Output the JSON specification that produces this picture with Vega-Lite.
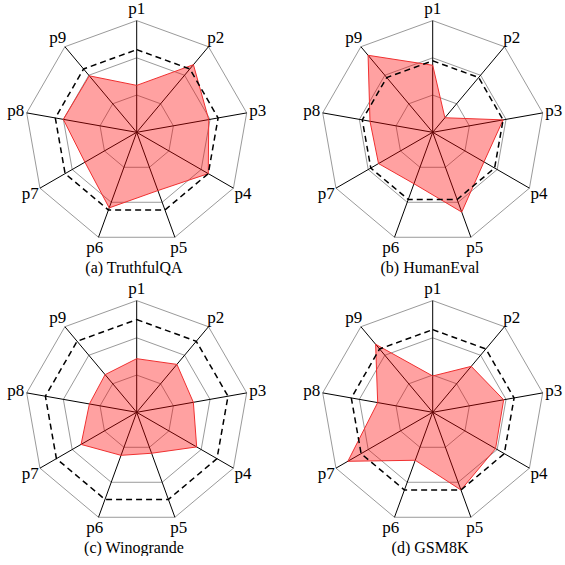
{
  "$schema": "https://vega.github.io/schema/vega-lite/v6.json",
  "padding": 0,
  "background": "white",
  "data": {"values": [
    {"panel": "(a) TruthfulQA", "axis": "p1", "value": 0.42, "ref": 0.74},
    {"panel": "(a) TruthfulQA", "axis": "p2", "value": 0.79, "ref": 0.74},
    {"panel": "(a) TruthfulQA", "axis": "p3", "value": 0.655, "ref": 0.74},
    {"panel": "(a) TruthfulQA", "axis": "p4", "value": 0.74, "ref": 0.74},
    {"panel": "(a) TruthfulQA", "axis": "p5", "value": 0.555, "ref": 0.74},
    {"panel": "(a) TruthfulQA", "axis": "p6", "value": 0.72, "ref": 0.74},
    {"panel": "(a) TruthfulQA", "axis": "p7", "value": 0.535, "ref": 0.74},
    {"panel": "(a) TruthfulQA", "axis": "p8", "value": 0.667, "ref": 0.74},
    {"panel": "(a) TruthfulQA", "axis": "p9", "value": 0.66, "ref": 0.74},
    {"panel": "(b) HumanEval", "axis": "p1", "value": 0.6, "ref": 0.64},
    {"panel": "(b) HumanEval", "axis": "p2", "value": 0.17, "ref": 0.64},
    {"panel": "(b) HumanEval", "axis": "p3", "value": 0.64, "ref": 0.64},
    {"panel": "(b) HumanEval", "axis": "p4", "value": 0.53, "ref": 0.64},
    {"panel": "(b) HumanEval", "axis": "p5", "value": 0.76, "ref": 0.64},
    {"panel": "(b) HumanEval", "axis": "p6", "value": 0.49, "ref": 0.64},
    {"panel": "(b) HumanEval", "axis": "p7", "value": 0.56, "ref": 0.64},
    {"panel": "(b) HumanEval", "axis": "p8", "value": 0.57, "ref": 0.64},
    {"panel": "(b) HumanEval", "axis": "p9", "value": 0.9, "ref": 0.64},
    {"panel": "(c) Winogrande", "axis": "p1", "value": 0.48, "ref": 0.83},
    {"panel": "(c) Winogrande", "axis": "p2", "value": 0.56, "ref": 0.83},
    {"panel": "(c) Winogrande", "axis": "p3", "value": 0.515, "ref": 0.83},
    {"panel": "(c) Winogrande", "axis": "p4", "value": 0.62, "ref": 0.83},
    {"panel": "(c) Winogrande", "axis": "p5", "value": 0.39, "ref": 0.83},
    {"panel": "(c) Winogrande", "axis": "p6", "value": 0.41, "ref": 0.83},
    {"panel": "(c) Winogrande", "axis": "p7", "value": 0.575, "ref": 0.83},
    {"panel": "(c) Winogrande", "axis": "p8", "value": 0.43, "ref": 0.83},
    {"panel": "(c) Winogrande", "axis": "p9", "value": 0.44, "ref": 0.83},
    {"panel": "(d) GSM8K", "axis": "p1", "value": 0.325, "ref": 0.74},
    {"panel": "(d) GSM8K", "axis": "p2", "value": 0.537, "ref": 0.74},
    {"panel": "(d) GSM8K", "axis": "p3", "value": 0.645, "ref": 0.74},
    {"panel": "(d) GSM8K", "axis": "p4", "value": 0.65, "ref": 0.74},
    {"panel": "(d) GSM8K", "axis": "p5", "value": 0.74, "ref": 0.74},
    {"panel": "(d) GSM8K", "axis": "p6", "value": 0.457, "ref": 0.74},
    {"panel": "(d) GSM8K", "axis": "p7", "value": 0.877, "ref": 0.74},
    {"panel": "(d) GSM8K", "axis": "p8", "value": 0.5, "ref": 0.74},
    {"panel": "(d) GSM8K", "axis": "p9", "value": 0.795, "ref": 0.74}
  ]},
  "transform": [
    {"calculate": "indexof(['p1','p2','p3','p4','p5','p6','p7','p8','p9'], datum.axis)", "as": "idx"},
    {"calculate": "datum.idx * 2 * PI / 9", "as": "ang"},
    {"calculate": "sin(datum.ang)", "as": "ux"},
    {"calculate": "cos(datum.ang)", "as": "uy"}
  ],
  "facet": {
    "field": "panel", "type": "nominal",
    "sort": ["(a) TruthfulQA", "(b) HumanEval", "(c) Winogrande", "(d) GSM8K"],
    "header": {"title": null, "labelOrient": "bottom", "labelFont": "serif", "labelFontSize": 16, "labelColor": "black", "labelPadding": 2}
  },
  "columns": 2,
  "spacing": {"row": 4, "column": 28},
  "spec": {
    "width": 268,
    "height": 258,
    "layer": [
      {
        "transform": [
          {"calculate": "1/3", "as": "g1"},
          {"calculate": "2/3", "as": "g2"},
          {"calculate": "1", "as": "g3"},
          {"fold": ["g1", "g2", "g3"], "as": ["ring", "lv"]},
          {"calculate": "datum.lv * datum.ux", "as": "gx"},
          {"calculate": "datum.lv * datum.uy", "as": "gy"}
        ],
        "mark": {"type": "line", "interpolate": "linear-closed", "stroke": "#9a9a9a", "strokeWidth": 1},
        "encoding": {
          "x": {"field": "gx", "type": "quantitative", "scale": {"domain": [-1.2238, 1.1755], "nice": false, "zero": false}, "axis": null},
          "y": {"field": "gy", "type": "quantitative", "scale": {"domain": [-1.1253, 1.1844], "nice": false, "zero": false}, "axis": null},
          "detail": {"field": "ring", "type": "nominal"},
          "order": {"field": "idx", "type": "quantitative"}
        }
      },
      {
        "mark": {"type": "rule", "stroke": "black", "strokeWidth": 1},
        "encoding": {
          "x": {"field": "ux", "type": "quantitative"},
          "y": {"field": "uy", "type": "quantitative"},
          "x2": {"datum": 0},
          "y2": {"datum": 0}
        }
      },
      {
        "transform": [
          {"calculate": "datum.value * datum.ux", "as": "vx"},
          {"calculate": "datum.value * datum.uy", "as": "vy"}
        ],
        "mark": {"type": "line", "interpolate": "linear-closed", "fill": "#ff0000", "fillOpacity": 0.37, "stroke": "#f03030", "strokeWidth": 1},
        "encoding": {
          "x": {"field": "vx", "type": "quantitative"},
          "y": {"field": "vy", "type": "quantitative"},
          "order": {"field": "idx", "type": "quantitative"}
        }
      },
      {
        "transform": [
          {"calculate": "datum.ref * datum.ux", "as": "rx"},
          {"calculate": "datum.ref * datum.uy", "as": "ry"}
        ],
        "mark": {"type": "line", "interpolate": "linear-closed", "stroke": "black", "strokeWidth": 1.5, "strokeDash": [6, 4]},
        "encoding": {
          "x": {"field": "rx", "type": "quantitative"},
          "y": {"field": "ry", "type": "quantitative"},
          "order": {"field": "idx", "type": "quantitative"}
        }
      },
      {
        "transform": [
          {"calculate": "1.1 * datum.ux", "as": "lx"},
          {"calculate": "1.1 * datum.uy", "as": "ly"}
        ],
        "mark": {"type": "text", "font": "serif", "fontSize": 17, "color": "black", "align": "center", "baseline": "middle"},
        "encoding": {
          "x": {"field": "lx", "type": "quantitative"},
          "y": {"field": "ly", "type": "quantitative"},
          "text": {"field": "axis", "type": "nominal"}
        }
      }
    ]
  },
  "config": {"view": {"stroke": null}, "font": "serif", "text": {"font": "serif"}}
}
